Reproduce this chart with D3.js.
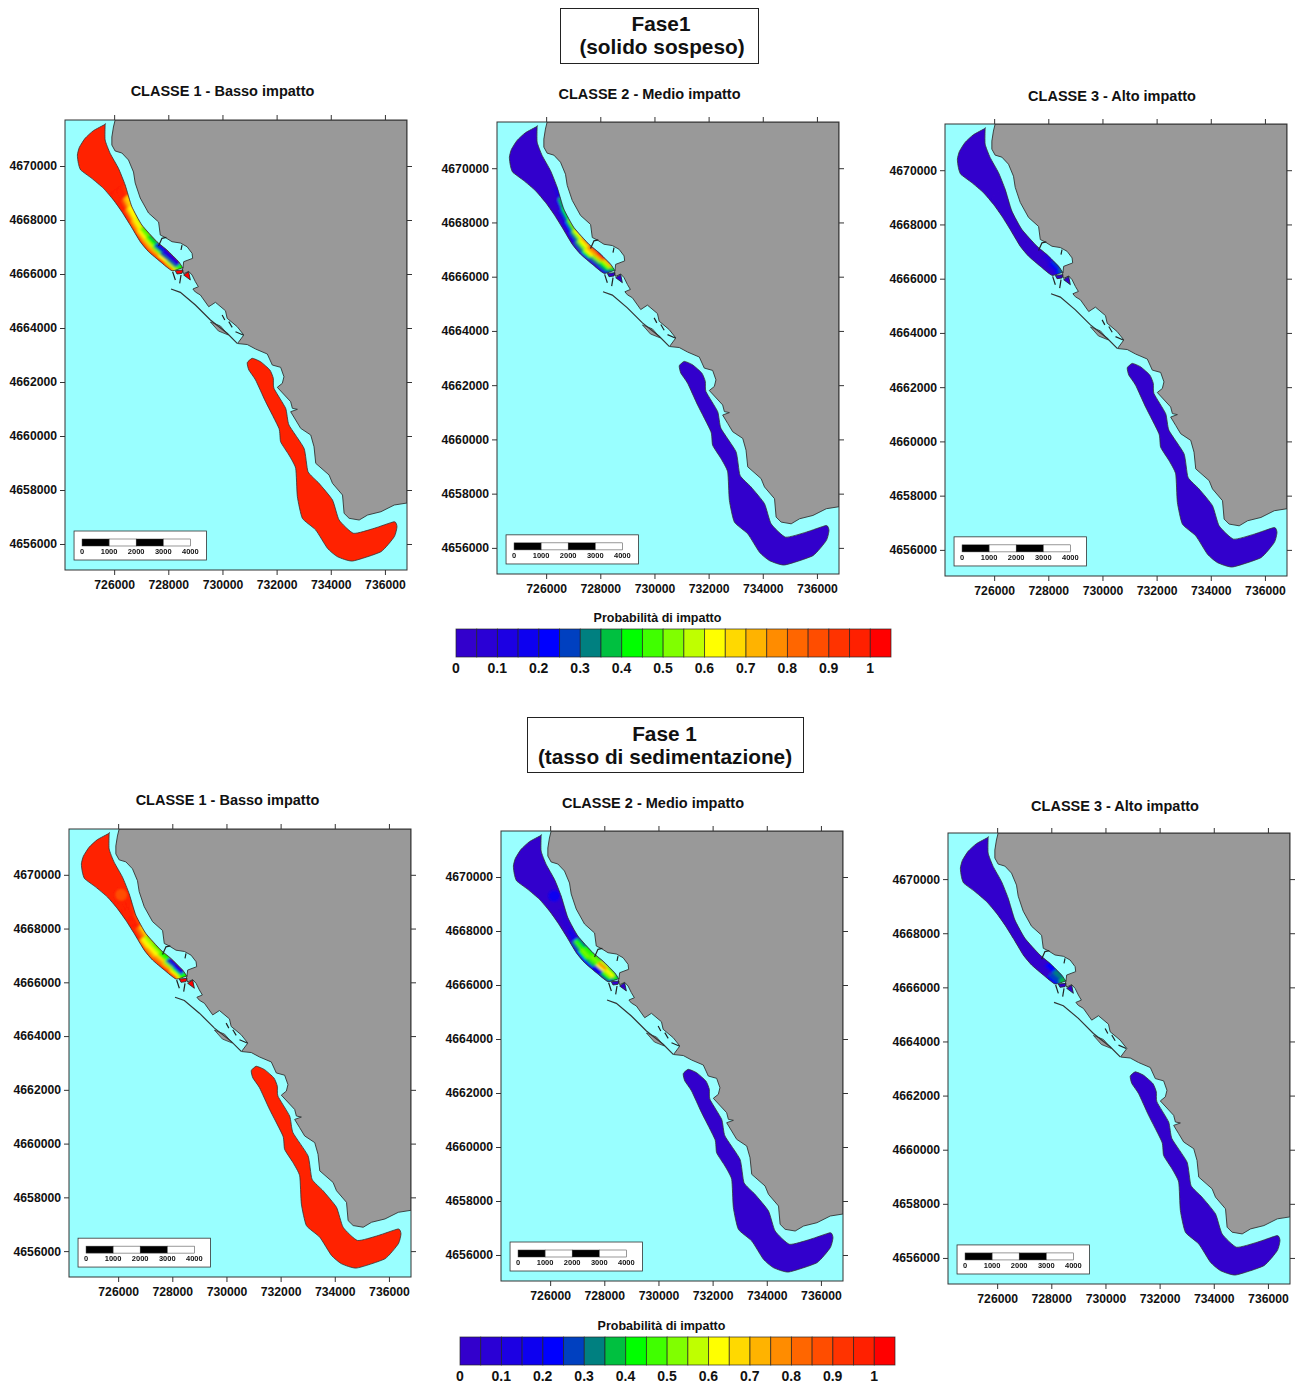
<!DOCTYPE html>
<html>
<head>
<meta charset="utf-8">
<script src="https://d3js.org/d3.v7.min.js"></script>
<style>
  html, body { margin: 0; padding: 0; background: #fff; }
  text { font-family: "Liberation Sans", Arial, sans-serif; font-weight: bold; fill: #111; }
</style>
</head>
<body>
<div id="chart"></div>
<script>
// probability classes of the colour bar
const classBreaks = [0.05,0.1,0.15,0.2,0.25,0.3,0.35,0.4,0.45,0.5,0.55,0.6,0.65,0.7,0.75,0.8,0.85,0.9,0.95,1];
const classColors = ["#3300cc","#2a00d5","#1c00e3","#0d00f0","#0000ff","#0040c0","#008080","#00c040","#00ff00","#40ff00","#80ff00","#bfff00","#ffff00","#ffd900","#ffb300","#ff8c00","#ff6600","#ff4d00","#ff3300","#ff2000","#ff0000"];
const legendTicks = [0,0.1,0.2,0.3,0.4,0.5,0.6,0.7,0.8,0.9,1];

const xTicks = [726000,728000,730000,732000,734000,736000];
const yTicks = [4656000,4658000,4660000,4662000,4664000,4666000,4668000,4670000];
const eastRange = [724185,736815];
const northRange = [4655037,4671704];

const panelTitles = ["CLASSE 1 - Basso impatto","CLASSE 2 - Medio impatto","CLASSE 3 - Alto impatto","CLASSE 1 - Basso impatto","CLASSE 2 - Medio impatto","CLASSE 3 - Alto impatto"];
const panelBase = [0.97,0.02,0.02,0.97,0.02,0.02];

// coastline, easting / northing in metres
const coast = [[726037,4671704],[725974,4671445],[725915,4671074],[725915,4670778],[726037,4670556],[726285,4670482],[726530,4670222],[726715,4669778],[726778,4669370],[726963,4668815],[727270,4668259],[727641,4667926],[727704,4667444],[727889,4667352],[728137,4667196],[728445,4667148],[728693,4667011],[728878,4666766],[728900,4666581],[728567,4666455],[728545,4666248],[728519,4666148],[728567,4666011],[728752,4666100],[728878,4665963],[729000,4665715],[729111,4665529],[728908,4665444],[729000,4665333],[729185,4665222],[729493,4664788],[729741,4664951],[730111,4664640],[730174,4664359],[730545,4664048],[730789,4663740],[730556,4663425],[730915,4663388],[731223,4663222],[731656,4663037],[731841,4662629],[732149,4662544],[732271,4662196],[732211,4661951],[732026,4661803],[732519,4661270],[732582,4661025],[732767,4660988],[732519,4660899],[732704,4660592],[732889,4660284],[733260,4660037],[733382,4659603],[733445,4658988],[733938,4658555],[734064,4658247],[734434,4657814],[734493,4657136],[734678,4656951],[735049,4656888],[735360,4657074],[735852,4657196],[736345,4657444],[736815,4657518],[736815,4671704]];
const harbourLand = [[729556,4664222],[729926,4664074],[730222,4663740],[729852,4663889]];
const breakwater = [[728100,4665444],[728445,4665322],[729000,4664852],[729556,4664296],[730174,4663803],[730545,4663433]];
const piers = [
  [[728160,4666085],[728260,4665778]],
  [[728470,4665963],[728420,4665655]],
  [[727640,4667037],[727766,4667321],[727926,4667358]],
  [[728506,4667074],[728469,4666889]],
  [[729988,4664481],[730087,4664296]],
  [[730235,4664235],[730359,4664025]],
  [[730482,4663864],[730766,4663741]]
];

// impact areas, tips listed twice to keep them sharp on the curve
const plumeNorth = [[725667,4671543],[725667,4671543],[725667,4670963],[725852,4670469],[726160,4669913],[726407,4669296],[726654,4668494],[727025,4667815],[727580,4667197],[727951,4666889],[728383,4666457],[728531,4666234],[728531,4666234],[728136,4666123],[727704,4666457],[727272,4666827],[726963,4667197],[726593,4667815],[726284,4668308],[725975,4668741],[725605,4669173],[725173,4669543],[724765,4669852],[724679,4670099],[724642,4670407],[724716,4670691],[724926,4671025],[725235,4671309]];
const plumeSouth = [[731100,4662877],[731408,4662751],[731752,4662444],[731878,4662137],[731901,4661766],[732334,4661025],[732456,4660407],[733012,4659544],[733160,4658677],[733567,4658247],[734064,4657629],[734308,4656888],[734841,4656396],[735605,4656581],[736345,4656825],[736445,4656640],[736345,4656270],[735852,4655714],[734804,4655369],[734249,4655529],[733878,4655840],[733445,4656518],[732952,4656951],[732767,4657751],[732704,4658803],[732456,4659296],[732149,4659785],[732086,4660284],[731593,4661270],[731223,4662074],[730974,4662444],[730915,4662714]];
const plumeBasin = [[728259,4666122],[728545,4666148],[728508,4666026],[728322,4666000]];
const plumeWedge = [[728567,4665963],[728752,4666085],[728815,4665778]];

// cross sections of the coloured stretch, seaward and coastward end
const sectionSea = [[725852,4668889],[726074,4668568],[726296,4668271],[726531,4667901],[726741,4667531],[726963,4667197],[727235,4666852],[727519,4666605],[727827,4666370],[728136,4666123],[728259,4665963]];
const sectionCoast = [[726432,4669333],[726531,4668926],[726654,4668555],[726864,4668123],[727087,4667753],[727358,4667444],[727642,4667160],[727926,4666913],[728198,4666667],[728469,4666395],[728630,4666210]];

// probability between consecutive sections, sea to coast
const fieldSolido1 = [[.97,.97,.97,.97,.9],[.97,.95,.85,.72,.65],[.97,.85,.7,.62,.6],[.9,.75,.65,.6,.55],[.9,.7,.6,.5,.45],[.85,.7,.55,.4,.35],[.85,.7,.48,.28,.2],[.9,.6,.3,.12,.1],[.75,.55,.3,.12,.08],[.65,.55,.45,.4,.4]];
const fieldSolido2 = [[.03,.03,.03,.03,.1],[.03,.03,.03,.1,.38],[.03,.03,.1,.25,.42],[.03,.05,.2,.38,.5],[.03,.1,.32,.5,.6],[.08,.3,.5,.62,.7],[.1,.4,.6,.7,.8],[.05,.3,.5,.72,.9],[.1,.3,.42,.55,.72],[.15,.25,.32,.36,.4]];
const fieldSolido3 = [[.03,.03,.03,.03,.03],[.03,.03,.03,.03,.03],[.03,.03,.03,.03,.03],[.03,.03,.03,.03,.03],[.03,.03,.03,.03,.03],[.03,.03,.03,.03,.03],[.03,.03,.03,.03,.03],[.03,.03,.03,.05,.1],[.03,.03,.1,.2,.25],[.03,.1,.2,.25,.3]];
const fieldTasso1 = [[.97,.97,.97,.97,.97],[.97,.97,.97,.95,.9],[.97,.97,.97,.95,.85],[.97,.9,.8,.75,.65],[.85,.68,.6,.55,.5],[.8,.7,.62,.55,.45],[.85,.78,.65,.48,.42],[.9,.72,.5,.25,.15],[.8,.6,.42,.18,.1],[.65,.55,.42,.4,.4]];
const fieldTasso2 = [[.03,.03,.03,.03,.03],[.03,.03,.03,.05,.03],[.03,.03,.06,.05,.03],[.03,.08,.15,.12,.08],[.12,.32,.45,.42,.32],[.2,.42,.52,.48,.4],[.2,.38,.45,.5,.45],[.15,.12,.62,.75,.55],[.3,.42,.55,.62,.48],[.1,.25,.38,.42,.35]];
const fieldTasso3 = [[.03,.03,.03,.03,.03],[.03,.03,.03,.03,.03],[.03,.03,.03,.03,.03],[.03,.03,.03,.03,.03],[.03,.03,.03,.03,.03],[.03,.03,.03,.03,.03],[.03,.03,.03,.03,.03],[.03,.03,.03,.22,.22],[.22,.25,.25,.3,.3],[.22,.25,.35,.38,.38]];
const panelFields = [fieldSolido1,fieldSolido2,fieldSolido3,fieldTasso1,fieldTasso2,fieldTasso3];

// isolated spots: panel, easting, northing, value
const fieldSpots = [[3,726111,4669259,.85],[4,726148,4669300,.15]];

const scaleBarLabels = [0,1000,2000,3000,4000];

const width = 1295, height = 1385;
const panelPos = [[65,120],[497,122],[945,124],[69,829],[501,831],[948,833]];
const panelHeights = [450,452,452,448,450,451];
const mapW = 342;
const titlePos = [[222.5,96],[649.5,99],[1112,101],[227.5,805],[653,808],[1115,811]];
const barPos = [[456,629],[460,1337]];
const barW = 435, barH = 28;

const svg = d3.select("#chart").append("svg")
  .attr("width", width)
  .attr("height", height)
  .attr("viewBox", [0,0,width,height]);

const defs = svg.append("defs");
defs.append("filter").attr("id","soft")
  .attr("x","-10%").attr("y","-10%").attr("width","120%").attr("height","120%")
  .append("feGaussianBlur").attr("stdDeviation",1.1);
defs.append("filter").attr("id","scan")
  .attr("x","-2%").attr("y","-2%").attr("width","104%").attr("height","104%")
  .append("feGaussianBlur").attr("stdDeviation",0.45);

const color = d3.scaleThreshold().domain(classBreaks).range(classColors);

function drawPanel(i){
  const mapH = panelHeights[i];
  const x = d3.scaleLinear().domain(eastRange).range([0,mapW]);
  const y = d3.scaleLinear().domain(northRange).range([mapH,0]);
  const line = d3.line().x(d=>x(d[0])).y(d=>y(d[1]));
  const ring = d3.line().x(d=>x(d[0])).y(d=>y(d[1])).curve(d3.curveLinearClosed);
  const blob = d3.line().x(d=>x(d[0])).y(d=>y(d[1])).curve(d3.curveCardinalClosed.tension(0.5));

  // point across a section, t from 0 (sea) to 1 (coast)
  const across = (s, t) => [sectionSea[s][0]+(sectionCoast[s][0]-sectionSea[s][0])*t,
                            sectionSea[s][1]+(sectionCoast[s][1]-sectionSea[s][1])*t];

  defs.append("clipPath").attr("id","mapClip"+i).append("rect").attr("width",mapW).attr("height",mapH);
  defs.append("clipPath").attr("id","plumeClip"+i).append("path").attr("d",blob(plumeNorth));

  const g = svg.append("g").attr("transform",`translate(${panelPos[i][0]},${panelPos[i][1]})`);
  const map = g.append("g").attr("clip-path",`url(#mapClip${i})`).append("g").attr("filter","url(#scan)");

  map.append("rect").attr("width",mapW).attr("height",mapH).attr("fill","#99ffff");
  map.append("path").attr("d",ring(coast)).attr("fill","#999999").attr("stroke","#333").attr("stroke-width",0.9);
  map.append("path").attr("d",ring(harbourLand)).attr("fill","#999999").attr("stroke","#333").attr("stroke-width",0.8);

  const base = color(panelBase[i]);
  map.append("path").attr("d",blob(plumeNorth)).attr("fill",base);
  map.append("path").attr("d",blob(plumeSouth)).attr("fill",base).attr("stroke","#333").attr("stroke-width",0.8);
  map.selectAll("path.small").data([plumeBasin,plumeWedge]).join("path").attr("class","small")
    .attr("d",d=>ring(d)).attr("fill",panelBase[i]>0.5 ? "#ff0000" : base)
    .attr("stroke","#222").attr("stroke-width",0.8);

  // coloured stretch, blurred then clipped to the area outline
  const field = map.append("g").attr("clip-path",`url(#plumeClip${i})`).append("g").attr("filter","url(#soft)");
  const rows = panelFields[i];
  rows.forEach(function(row, r){
    row.forEach(function(v, c){
      const t0 = c/row.length, t1 = (c+1)/row.length;
      field.append("path")
        .attr("d",ring([across(r,t0),across(r,t1),across(r+1,t1),across(r+1,t0)]))
        .attr("fill",color(v)).attr("stroke",color(v)).attr("stroke-width",0.6);
    });
  });
  fieldSpots.filter(d=>d[0]===i).forEach(function(d){
    field.append("circle").attr("cx",x(d[1])).attr("cy",y(d[2])).attr("r",x(eastRange[0]+220)).attr("fill",color(d[3]));
  });

  map.append("path").attr("d",blob(plumeNorth)).attr("fill","none").attr("stroke","#333").attr("stroke-width",0.8);

  map.append("path").attr("d",line(breakwater)).attr("fill","none").attr("stroke","#333").attr("stroke-width",1.2);
  map.selectAll("path.pier").data(piers).join("path").attr("class","pier")
    .attr("d",line).attr("fill","none").attr("stroke","#222").attr("stroke-width",1.2);

  // scale bar, 4000 m long on the map scale
  const left = 724815;
  const b = map.append("g");
  b.append("rect").attr("x",x(724519)).attr("y",y(4656481))
    .attr("width",x(729407)-x(724519)).attr("height",y(4655407)-y(4656481))
    .attr("fill","#fff").attr("stroke","#333").attr("stroke-width",0.8);
  scaleBarLabels.slice(0,-1).forEach(function(d,k){
    b.append("rect").attr("x",x(left+d)).attr("y",y(4656185))
      .attr("width",x(left+d+1000)-x(left+d)).attr("height",y(4655926)-y(4656185))
      .attr("fill",k%2 ? "#fff" : "#000").attr("stroke","#333").attr("stroke-width",0.5);
  });
  b.selectAll("text").data(scaleBarLabels).join("text")
    .attr("x",d=>x(left+d)).attr("y",y(4655640)).attr("text-anchor","middle")
    .attr("font-size",7.5).text(d=>d);

  g.append("rect").attr("width",mapW).attr("height",mapH).attr("fill","none").attr("stroke","#333").attr("stroke-width",1);

  // ticks on all four sides, labels left and bottom only
  g.append("g").attr("transform",`translate(0,${mapH})`)
    .call(d3.axisBottom(x).tickValues(xTicks).tickFormat(d3.format("d")).tickSize(5).tickPadding(5)).call(styleAxis);
  g.append("g")
    .call(d3.axisLeft(y).tickValues(yTicks).tickFormat(d3.format("d")).tickSize(5).tickPadding(3)).call(styleAxis);
  g.append("g")
    .call(d3.axisTop(x).tickValues(xTicks).tickFormat("").tickSize(5)).call(styleAxis);
  g.append("g").attr("transform",`translate(${mapW},0)`)
    .call(d3.axisRight(y).tickValues(yTicks).tickFormat("").tickSize(5)).call(styleAxis);

  svg.append("text").attr("x",titlePos[i][0]).attr("y",titlePos[i][1]).attr("text-anchor","middle")
    .attr("font-size",14.5).text(panelTitles[i]);
}

function styleAxis(a){
  a.select(".domain").remove();
  a.selectAll("line").attr("stroke","#333");
  a.selectAll("text").attr("font-size",12.2).attr("font-family",null).style("fill","#111");
}

function drawColorBar(k){
  const g = svg.append("g").attr("transform",`translate(${barPos[k][0]},${barPos[k][1]})`);
  const bx = d3.scaleLinear().domain([0,1.05]).range([0,barW]);
  const lefts = [0].concat(classBreaks);
  g.selectAll("rect").data(lefts).join("rect")
    .attr("x",d=>bx(d)).attr("width",d=>bx(d+0.05)-bx(d)).attr("height",barH)
    .attr("fill",d=>color(d+0.001)).attr("stroke","#222").attr("stroke-opacity",0.75).attr("stroke-width",0.9);
  g.append("g").attr("transform",`translate(0,${barH})`)
    .call(d3.axisBottom(bx).tickValues(legendTicks).tickFormat(d=>d).tickSize(0).tickPadding(6))
    .call(function(a){
      a.select(".domain").remove();
      a.selectAll("text").attr("font-size",14).attr("font-family",null).attr("dx",-0.7).style("fill","#111");
    });
  g.append("text").attr("x",201.5).attr("y",-7).attr("text-anchor","middle").attr("font-size",12.5).text("Probabilità di impatto");
}

function drawHeading(bx, by, bw, bh, lines){
  svg.append("rect").attr("x",bx).attr("y",by).attr("width",bw).attr("height",bh)
    .attr("fill","#fff").attr("stroke","#222").attr("stroke-width",1);
  lines.forEach(function(d){
    svg.append("text").attr("x",d[1]).attr("y",d[2]).attr("text-anchor","middle").attr("font-size",20.8).text(d[0]);
  });
}

drawHeading(560.5,8.5,198,55,[["Fase1",661,31],["(solido sospeso)",662,54]]);
drawHeading(527.5,717.5,276,55,[["Fase 1",664.5,741],["(tasso di sedimentazione)",665,764]]);
d3.range(6).forEach(drawPanel);
drawColorBar(0);
drawColorBar(1);
</script>
</body>
</html>
